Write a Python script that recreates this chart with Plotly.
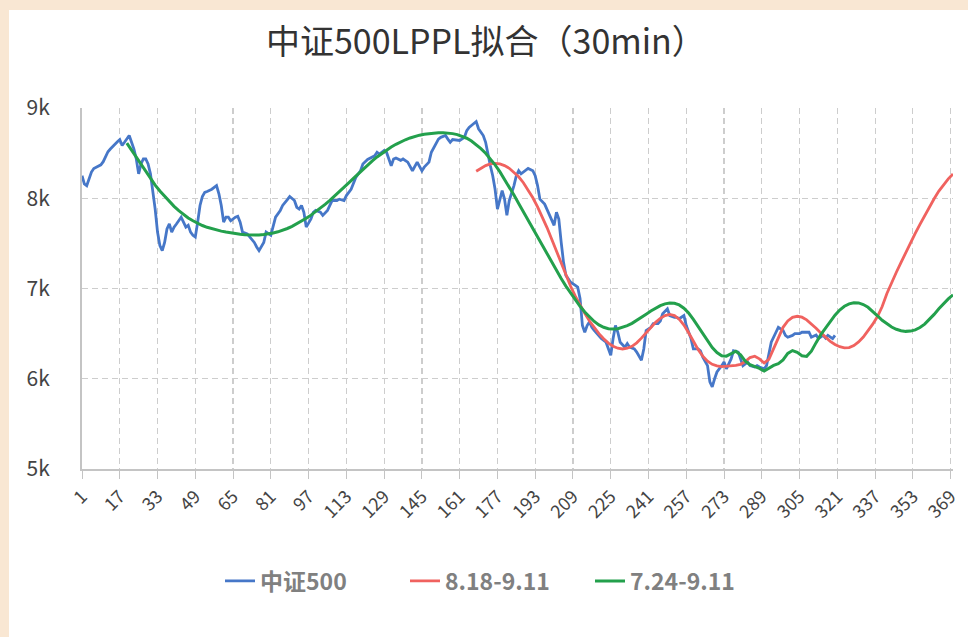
import plotly.graph_objects as go

# ---------------- data ----------------
title_text = "中证500LPPL拟合（30min）"
series_names = ["中证500", "8.18-9.11", "7.24-9.11"]

x_tick_vals = [1, 17, 33, 49, 65, 81, 97, 113, 129, 145, 161, 177, 193, 209,
               225, 241, 257, 273, 289, 305, 321, 337, 353, 369]
y_tick_vals = [5000, 6000, 7000, 8000, 9000]
y_tick_text = ["5k", "6k", "7k", "8k", "9k"]

blue_x = [1, 2, 3, 4, 5, 6, 7, 8, 9, 10, 11, 12, 13, 14, 15, 16, 17, 18, 19, 20,
          21, 22, 23, 24, 25, 26, 27, 28, 29, 30, 31, 32, 33, 34, 35, 36, 37, 38, 39, 40,
          41, 42, 43, 44, 45, 46, 47, 48, 49, 50, 51, 52, 53, 54, 55, 56, 57, 58, 59, 60,
          61, 62, 63, 64, 66, 67, 68, 69, 71, 72, 74, 75, 76, 78, 79, 81, 82, 83, 85, 86,
          88, 89, 91, 92, 93, 94, 95, 96, 98, 99, 100, 102, 103, 105, 106, 107, 109, 110,
          112, 113, 115, 116, 117, 119, 120, 122, 123, 125, 126, 127, 129, 130, 131, 132,
          133, 134, 136, 137, 139, 140, 141, 143, 144, 145, 146, 148, 149, 151, 152, 153,
          155, 156, 157, 158, 160, 161, 163, 164, 165, 167, 168, 169, 171, 172, 173, 174,
          175, 176, 177, 178, 179, 180, 181, 182, 184, 185, 186, 187, 189, 190, 192, 193,
          194, 195, 197, 198, 199, 201, 202, 203, 204, 205, 206, 208, 210, 211, 212, 213,
          214, 215, 216, 217, 218, 220, 221, 223, 224, 225, 226, 227, 228, 229, 231, 232,
          233, 235, 236, 238, 239, 240, 242, 243, 245, 246, 247, 249, 250, 252, 253, 254,
          256, 257, 259, 260, 262, 263, 264, 266, 267, 268, 269, 270, 272, 273, 274, 276,
          277, 279, 280, 281, 283, 284, 286, 287, 288, 290, 291, 292, 293, 295, 296, 298,
          299, 300, 302, 303, 305, 306, 308, 309, 310, 312, 313, 315, 316, 317, 319, 320]
blue_y = [8250, 8160, 8140, 8215, 8290, 8330, 8345, 8355, 8370, 8405, 8470, 8515, 8545, 8575, 8600, 8625, 8650, 8585, 8620, 8665,
          8695, 8620, 8545, 8435, 8270, 8380, 8435, 8435, 8380, 8270, 8100, 7880, 7625, 7475, 7420, 7510, 7660, 7715, 7625, 7680,
          7715, 7750, 7790, 7735, 7680, 7700, 7625, 7590, 7570, 7735, 7920, 8020, 8065, 8075, 8085, 8100, 8120, 8140, 8050, 7920,
          7735, 7790, 7790, 7750, 7790, 7800, 7735, 7625, 7605, 7570, 7510, 7460, 7420, 7510, 7625, 7590, 7680, 7790, 7865, 7920,
          7985, 8020, 7975, 7900, 7880, 7920, 7845, 7680, 7770, 7845, 7865, 7845, 7810, 7865, 7920, 7975, 7975, 7990,
          7975, 8030, 8100, 8160, 8230, 8305, 8380, 8430, 8445, 8470, 8510, 8490, 8530, 8510, 8435, 8360,
          8435, 8445, 8420, 8435, 8400, 8360, 8305, 8400, 8360, 8305, 8345, 8400, 8510, 8600, 8655, 8675,
          8695, 8655, 8620, 8650, 8640, 8640, 8675, 8750, 8785, 8825, 8850, 8770, 8695, 8620, 8470, 8360,
          8250, 8100, 7880, 7990, 8085, 7990, 7810, 7975, 8140, 8250, 8305, 8270, 8305, 8330, 8305, 8250,
          8140, 7990, 7935, 7880, 7810, 7700, 7845, 7770, 7515, 7290, 7145, 7070, 7035, 7015, 6890, 6590,
          6515, 6590, 6630, 6570, 6535, 6480, 6445, 6405, 6330, 6260, 6445, 6590, 6515, 6405, 6350, 6390,
          6350, 6330, 6295, 6205, 6330, 6535, 6570, 6610, 6610, 6640, 6720, 6775, 6700, 6680, 6680, 6665,
          6700, 6590, 6445, 6330, 6330, 6310, 6240, 6145, 5965, 5910, 6000, 6075, 6145, 6185, 6110, 6220,
          6310, 6295, 6220, 6145, 6185, 6145, 6130, 6145, 6130, 6110, 6145, 6260, 6405, 6515, 6570, 6535,
          6480, 6460, 6480, 6500, 6500, 6515, 6510, 6515, 6460, 6485, 6445, 6480, 6450, 6480, 6445, 6480]

red_x = list(range(168, 371, 2))
red_y = [8300, 8335, 8362, 8380, 8386, 8380, 8362, 8332, 8290, 8238,
         8172, 8095, 8005, 7905, 7795, 7675, 7545, 7410, 7275, 7145,
         7025, 6915, 6815, 6725, 6640, 6565, 6500, 6443, 6395, 6360,
         6338, 6330, 6338, 6360, 6398, 6450, 6510, 6570, 6625, 6670,
         6700, 6712, 6700, 6660, 6595, 6510, 6415, 6325, 6250, 6195,
         6160, 6142, 6135, 6137, 6142, 6148, 6160, 6190, 6235, 6250,
         6220, 6175, 6215, 6330, 6465, 6570, 6640, 6680, 6692, 6682,
         6652, 6610, 6560, 6508, 6458, 6415, 6380, 6355, 6342, 6345,
         6368, 6408, 6462, 6530, 6605, 6690, 6800, 6945, 7070, 7180,
         7290, 7400, 7510, 7610, 7710, 7810, 7905, 7995, 8080, 8150,
         8215, 8270]

green_x = list(range(20, 371, 2))
green_y = [8610, 8530, 8450, 8370, 8290, 8215, 8145, 8080, 8020, 7962,
           7910, 7862, 7820, 7782, 7750, 7722, 7698, 7678, 7662, 7648,
           7636, 7625, 7615, 7607, 7600, 7595, 7592, 7591, 7593, 7598,
           7605, 7615, 7628, 7645, 7665, 7688, 7715, 7745, 7778, 7813,
           7850, 7890, 7932, 7976, 8022, 8070, 8120, 8170, 8220, 8270,
           8320, 8368, 8414, 8458, 8498, 8535, 8568, 8598, 8625, 8648,
           8668, 8685, 8699, 8710, 8718, 8723, 8726, 8726, 8723, 8716,
           8705, 8688, 8665, 8634, 8595, 8550, 8498, 8438, 8370, 8295,
           8212, 8125, 8035, 7943, 7850, 7755, 7660, 7565, 7470, 7377,
           7285, 7196, 7110, 7027, 6948, 6873, 6803, 6740, 6683, 6635,
           6597, 6570, 6555, 6550, 6555, 6568, 6588, 6614, 6645, 6680,
           6715, 6750, 6783, 6810, 6830, 6840, 6836, 6818, 6782, 6728,
           6658, 6578, 6495, 6415, 6345, 6290, 6255, 6250, 6275, 6305,
           6265, 6195, 6155, 6138, 6115, 6085, 6118, 6148, 6168, 6208,
           6280, 6312, 6292, 6255, 6248, 6305, 6400, 6490, 6560, 6638,
           6705, 6762, 6803, 6830, 6842, 6840, 6822, 6792, 6750, 6698,
           6648, 6606, 6573, 6548, 6532, 6525, 6528, 6542, 6567, 6605,
           6655, 6713, 6775, 6835, 6885, 6930]

# ---------------- figure ----------------
W, H = 968, 637
ML, MR, MT, MB = 82, 15, 108, 168
PW, PH = W - ML - MR, H - MT - MB

colors = ["#4677C8", "#F0625F", "#23A04C"]
FONT = "Noto Sans CJK SC, Noto Sans, sans-serif"

fig = go.Figure()
fig.add_trace(go.Scatter(x=blue_x, y=blue_y, mode="lines", name=series_names[0],
                         line=dict(color=colors[0], width=2.8)))
fig.add_trace(go.Scatter(x=red_x, y=red_y, mode="lines", name=series_names[1],
                         line=dict(color=colors[1], width=2.8)))
fig.add_trace(go.Scatter(x=green_x, y=green_y, mode="lines", name=series_names[2],
                         line=dict(color=colors[2], width=3)))

beige = "#F9E7D3"
def px_x(v):
    return (v - ML) / PW
def px_y(v):
    return (H - MB - v) / PH

shapes = [
    dict(type="rect", xref="paper", yref="paper", layer="above",
         x0=px_x(0), x1=px_x(9), y0=px_y(H), y1=px_y(0),
         fillcolor=beige, line=dict(width=0)),
    dict(type="rect", xref="paper", yref="paper", layer="above",
         x0=px_x(0), x1=px_x(W), y0=px_y(10), y1=px_y(0),
         fillcolor=beige, line=dict(width=0)),
]

grid_col = "#CDCDCD"
axis_col = "#C4C4C4"

fig.update_layout(
    template="none",
    width=W, height=H,
    margin=dict(l=ML, r=MR, t=MT, b=MB, pad=0),
    paper_bgcolor="white",
    plot_bgcolor="white",
    font=dict(family=FONT, color="#444"),
    title=dict(text=title_text, x=0.502, xref="container", xanchor="center",
               y=1 - 42 / H, yref="container", yanchor="middle",
               font=dict(family=FONT, size=34, color="#333")),
    shapes=shapes,
    showlegend=True,
    legend=dict(orientation="h", x=px_x(220), xanchor="left",
                y=px_y(581), yanchor="middle",
                font=dict(family=FONT, size=23, color="#808080", weight="bold"),
                itemwidth=30, entrywidth=140, entrywidthmode="pixels",
                bgcolor="rgba(0,0,0,0)"),
    xaxis=dict(range=[1, 370], tickmode="array", tickvals=x_tick_vals,
               ticktext=[str(v) for v in x_tick_vals], tickangle=-45,
               showgrid=True, gridcolor=grid_col, gridwidth=1.2, griddash="6px,4px",
               showline=True, linecolor=axis_col, linewidth=2,
               ticks="outside", ticklen=8, tickcolor=axis_col, tickwidth=1,
               tickfont=dict(family=FONT, size=18, color="#444"),
               zeroline=False, automargin=False, fixedrange=True),
    yaxis=dict(range=[5000, 9000], tickmode="array", tickvals=y_tick_vals,
               ticktext=y_tick_text,
               showgrid=True, gridcolor=grid_col, gridwidth=1.2, griddash="6px,4px",
               showline=True, linecolor=axis_col, linewidth=2,
               ticks="", ticklabelstandoff=26,
               tickfont=dict(family=FONT, size=21, color="#444"),
               zeroline=False, automargin=False, fixedrange=True),
)

fig.write_html("out.html",
               config={"displayModeBar": False, "staticPlot": True},
               post_script="document.body.style.margin='0';document.body.style.padding='0';")
